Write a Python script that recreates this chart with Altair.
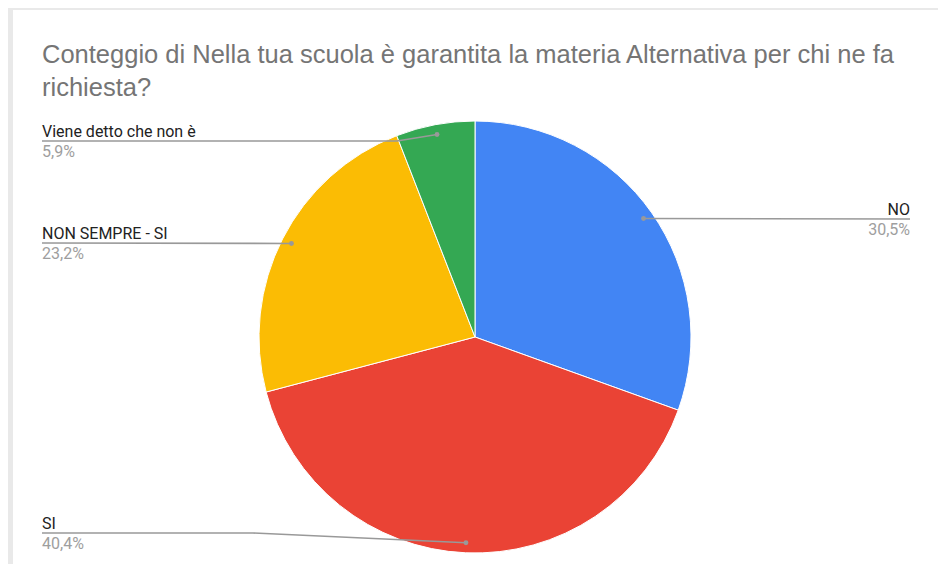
import math
import altair as alt
import pandas as pd

# ---------------- data ----------------
categories = ["NO", "SI", "NON SEMPRE - SI", "Viene detto che non è"]
values = [30.5, 40.4, 23.2, 5.9]
colors = ["#4285F4", "#EA4335", "#FBBC04", "#34A853"]
title_lines = [
    "Conteggio di Nella tua scuola è garantita la materia Alternativa per chi ne fa",
    "richiesta?",
]

# ---------------- layout (page pixels) ----------------
X0, X1 = 13, 938      # white card horizontal extent
Y0, Y1 = 10, 564      # white card vertical extent (visible)
CX, CY, R = 475, 337, 216
R_DOT = 206
LEFT_X, RIGHT_X = 42, 910
label_side = ["right", "left", "left", "left"]
label_line_y = [219, 533, 243, 141]
bend_x = [None, 253, None, 397]

xs = alt.Scale(domain=[X0, X1], nice=False, zero=False)
ys = alt.Scale(domain=[Y0, Y1], nice=False, zero=False, reverse=True)

# pie table
total = sum(values)
pie_df = pd.DataFrame({"category": categories, "value": values, "order": list(range(len(values)))})

# leader geometry derived from slice mid-angles
rows_line, rows_lab = [], []
cum = 0.0
for i, (cat, v) in enumerate(zip(categories, values)):
    mid = (cum + v / 2) / total * 2 * math.pi
    cum += v
    dx_, dy_ = CX + R_DOT * math.sin(mid), CY - R_DOT * math.cos(mid)
    ly = label_line_y[i]
    lx = RIGHT_X if label_side[i] == "right" else LEFT_X
    pts = [(lx, ly)]
    if bend_x[i] is not None:
        pts.append((bend_x[i], ly))
    pts.append((dx_, dy_))
    for s, (px, py) in enumerate(pts):
        rows_line.append({"category": cat, "seq": s, "x": px, "y": py})
    pct = f"{v:.1f}".replace(".", ",") + "%"
    rows_lab.append({"category": cat, "pct": pct, "x": lx, "y": ly,
                     "side": label_side[i], "dotx": dx_, "doty": dy_})
line_df = pd.DataFrame(rows_line)
lab_df = pd.DataFrame(rows_lab)

X = lambda f: alt.X(f, type="quantitative", scale=xs, axis=None)
Y = lambda f: alt.Y(f, type="quantitative", scale=ys, axis=None)

pie = alt.Chart(pie_df).mark_arc(radius=R, stroke="white", strokeWidth=1).encode(
    theta=alt.Theta("value:Q", stack=True),
    color=alt.Color("category:N", scale=alt.Scale(domain=categories, range=colors), legend=None),
    order=alt.Order("order:Q"),
    x=alt.XDatum(CX, type="quantitative", scale=xs, axis=None),
    y=alt.YDatum(CY, type="quantitative", scale=ys, axis=None),
)

lines = alt.Chart(line_df).mark_line(color="#999999", strokeWidth=1.6).encode(
    x=X("x"), y=Y("y"), detail="category:N", order="seq:Q"
)

dots = alt.Chart(lab_df).mark_circle(size=24, color="#999999", opacity=1).encode(
    x=X("dotx"), y=Y("doty")
)

def labels(side, align):
    base = alt.Chart(lab_df).transform_filter(alt.datum.side == side)
    name = base.mark_text(align=align, baseline="alphabetic", dy=-4, font="Roboto",
                          fontSize=16, color="#222222").encode(x=X("x"), y=Y("y"), text="category:N")
    pct = base.mark_text(align=align, baseline="alphabetic", dy=16, font="Roboto",
                         fontSize=16, color="#9e9e9e").encode(x=X("x"), y=Y("y"), text="pct:N")
    return name + pct

title = alt.Chart(pd.DataFrame({"t": [0]})).mark_text(
    align="left", baseline="alphabetic", font="Liberation Sans", fontSize=25.5,
    color="#757575", lineHeight=33,
).encode(
    x=alt.XDatum(42, type="quantitative", scale=xs, axis=None),
    y=alt.YDatum(63, type="quantitative", scale=ys, axis=None),
    text=alt.value(title_lines),
)

chart = alt.layer(pie, lines, dots, labels("left", "left"), labels("right", "right"), title).properties(
    width=X1 - X0,
    height=Y1 - Y0,
    background="#e9e9e9",
    padding={"left": 5, "top": 2, "right": 0, "bottom": 0},
    autosize=alt.AutoSizeParams(type="none"),
).configure_view(stroke=None, fill="white")

chart.save("out.html", embed_options={"renderer": "svg", "actions": False})
